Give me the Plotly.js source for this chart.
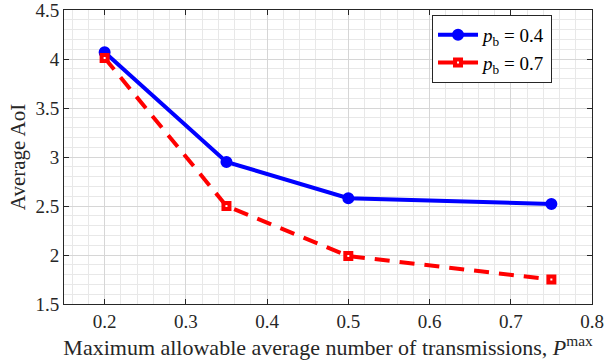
<!DOCTYPE html>
<html><head><meta charset="utf-8">
<script src="https://cdn.plot.ly/plotly-3.0.1.min.js"></script>
<style>html,body{margin:0;padding:0;background:#fff}</style>
</head><body><div id="chart" style="width:606px;height:362px"></div>
<script>
const pmax = [0.2, 0.35, 0.5, 0.75];
const aoiPb04 = [4.07, 2.95, 2.58, 2.52];
const aoiPb07 = [4.01, 2.50, 1.99, 1.75];
const xTicks = [0.2, 0.3, 0.4, 0.5, 0.6, 0.7, 0.8];
const yTicks = [1.5, 2, 2.5, 3, 3.5, 4, 4.5];
const names = ['<i>p</i><sub>b</sub> = 0.4', '<i>p</i><sub>b</sub> = 0.7'];

const SERIF = 'Liberation Serif';
const traces = [
  {x: pmax, y: aoiPb04, name: names[0], type: 'scatter', mode: 'lines+markers',
   line: {color: '#0000ff', width: 4},
   marker: {symbol: 'circle', size: 10, color: '#0000ff', line: {color: '#0000ff', width: 2}}},
  {x: pmax, y: aoiPb07, name: names[1], type: 'scatter', mode: 'lines+markers',
   line: {color: '#ff0000', width: 4, dash: '15px,10px'},
   marker: {symbol: 'square', size: 6, color: '#ffffff', line: {color: '#ff0000', width: 4}}}
];

const layout = {
  width: 606, height: 362,
  margin: {l: 64, r: 14, t: 10, b: 58},
  paper_bgcolor: '#ffffff', plot_bgcolor: '#ffffff',
  font: {family: SERIF, size: 16, color: '#262626'},
  showlegend: true,
  legend: {x: 0.697, y: 0.983, xanchor: 'left', yanchor: 'top',
    bgcolor: '#ffffff', bordercolor: '#262626', borderwidth: 1,
    font: {family: SERIF, size: 19, color: '#000'},
    tracegroupgap: 0, itemwidth: 40},
  xaxis: {range: [0.15, 0.8], tickvals: xTicks, ticktext: xTicks.map(String),
    ticks: 'inside', ticklen: 5, tickcolor: '#262626', mirror: 'ticks',
    showline: true, linecolor: '#262626', linewidth: 1, ticklabeloverflow: 'allow',
    showgrid: true, gridcolor: '#d6d6d6', gridwidth: 1, zeroline: false,
    minor: {dtick: 0.02, tick0: 0, showgrid: true, gridcolor: '#e8e8e8', gridwidth: 1, ticks: ''},
    tickfont: {family: SERIF, size: 19, color: '#262626'},
    title: {text: 'Maximum allowable average number of transmissions, <i>P</i><sup>max</sup>',
      font: {family: SERIF, size: 22, color: '#262626'}, standoff: 0}},
  yaxis: {range: [1.5, 4.5], tickvals: yTicks, ticktext: yTicks.map(String),
    ticks: 'inside', ticklen: 5, tickcolor: '#262626', mirror: 'ticks',
    showline: true, linecolor: '#262626', linewidth: 1, ticklabeloverflow: 'allow',
    showgrid: true, gridcolor: '#d6d6d6', gridwidth: 1, zeroline: false,
    minor: {dtick: 0.1, tick0: 0, showgrid: true, gridcolor: '#e8e8e8', gridwidth: 1, ticks: ''},
    tickfont: {family: SERIF, size: 19, color: '#262626'},
    title: {text: 'Average AoI', font: {family: SERIF, size: 21, color: '#262626'}, standoff: 4}}
};
Plotly.newPlot('chart', traces, layout, {displayModeBar: false, staticPlot: true});
</script></body></html>
